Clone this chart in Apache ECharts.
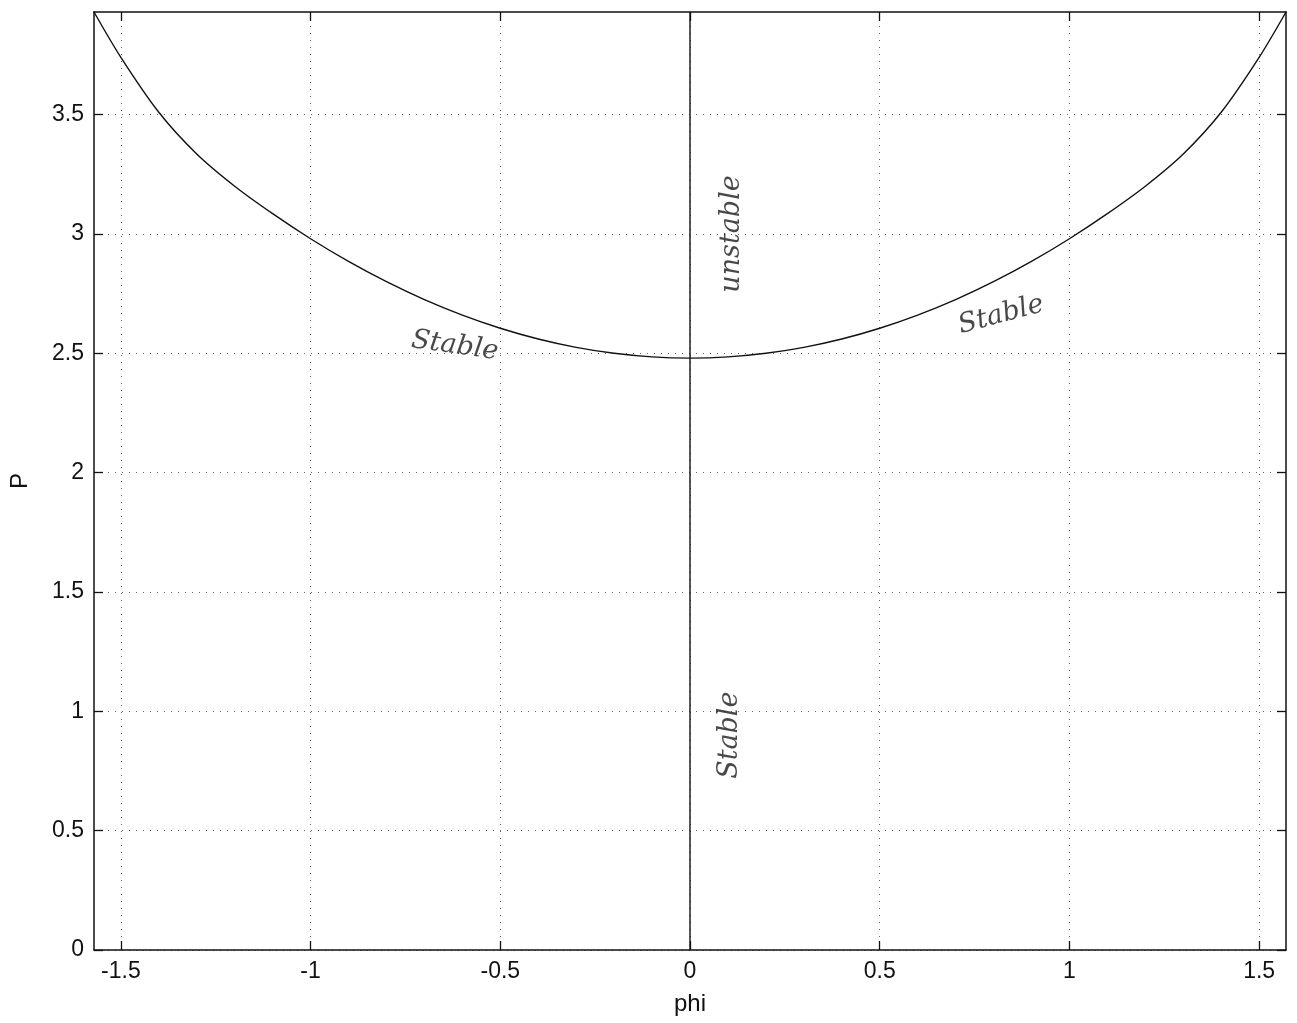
<!DOCTYPE html>
<html>
<head>
<meta charset="utf-8">
<script src="https://cdn.jsdelivr.net/npm/echarts@6/dist/echarts.min.js"></script>
<style>html,body{margin:0;padding:0;background:#fff}#c{width:1297px;height:1023px}</style>
</head>
<body>
<div id="c"></div>
<script>
// Curve P(phi)
const phiValues = [-1.5708,-1.5,-1.4,-1.3,-1.2,-1.1,-1.0,-0.9,-0.8,-0.7,-0.6,-0.5,-0.4,-0.3,-0.2,-0.1,0,0.1,0.2,0.3,0.4,0.5,0.6,0.7,0.8,0.9,1.0,1.1,1.2,1.3,1.4,1.5,1.5708];
const pValues = [3.93,3.74,3.51,3.335,3.20,3.085,2.98,2.885,2.80,2.725,2.66,2.605,2.56,2.525,2.50,2.485,2.48,2.485,2.50,2.525,2.56,2.605,2.66,2.725,2.80,2.885,2.98,3.085,3.20,3.335,3.51,3.74,3.93];
// Vertical branch at phi = 0
const vertPhi = [0, 0];
const vertP = [0, 3.93];
// Tick labels
const xTicks = [-1.5,-1,-0.5,0,0.5,1,1.5];
const yTicks = [0,0.5,1,1.5,2,2.5,3,3.5];
// Handwritten annotations: [phi, P, text, rotationDeg]
const notes = [[-0.62,2.53,'Stable',-8],[0.11,3.0,'unstable',90],[0.82,2.66,'Stable',15],[0.105,0.9,'Stable',90]];

const xMin = -1.5708, xMax = 1.5708, yMin = 0, yMax = 3.93;
const font = '"Liberation Sans", Arial, sans-serif';
const grid = {left:91, right:11, top:12, bottom:73, show:false};
const dotted = {show:true, lineStyle:{color:'#666', type:[1,6], width:1}};

const chart = echarts.init(document.getElementById('c'));
chart.setOption({
  animation:false,
  backgroundColor:'#fff',
  grid: grid,
  xAxis: [{
    type:'value', min:xMin, max:xMax, position:'bottom',
    name:'phi', nameLocation:'middle', nameGap:42,
    nameTextStyle:{fontFamily:font, fontSize:24, color:'#111'},
    axisLine:{show:true, onZero:false, lineStyle:{color:'#111', width:1.5}},
    axisTick:{show:true, inside:true, length:9, customValues:xTicks, lineStyle:{color:'#111', width:1.3}},
    axisLabel:{customValues:xTicks, fontFamily:font, fontSize:23, color:'#111', margin:10,
      formatter: v => String(v)},
    splitLine: dotted
  },{
    type:'value', min:xMin, max:xMax, position:'top',
    axisLine:{show:true, onZero:false, lineStyle:{color:'#111', width:1.5}},
    axisTick:{show:true, inside:true, length:9, customValues:xTicks, lineStyle:{color:'#111', width:1.3}},
    axisLabel:{show:false}, splitLine:{show:false}
  }],
  yAxis: [{
    type:'value', min:yMin, max:yMax, position:'left',
    name:'P', nameLocation:'middle', nameGap:62, nameRotate:90,
    nameTextStyle:{fontFamily:font, fontSize:24, color:'#111'},
    axisLine:{show:true, onZero:false, lineStyle:{color:'#111', width:1.5}},
    axisTick:{show:true, inside:true, length:9, customValues:yTicks, lineStyle:{color:'#111', width:1.3}},
    axisLabel:{customValues:yTicks, fontFamily:font, fontSize:23, color:'#111', margin:10,
      formatter: v => String(v)},
    splitLine: dotted
  },{
    type:'value', min:yMin, max:yMax, position:'right',
    axisLine:{show:true, onZero:false, lineStyle:{color:'#111', width:1.5}},
    axisTick:{show:true, inside:true, length:9, customValues:yTicks, lineStyle:{color:'#111', width:1.3}},
    axisLabel:{show:false}, splitLine:{show:false}
  }],
  series: [{
    type:'line', xAxisIndex:0, yAxisIndex:0, smooth:0.3, showSymbol:false,
    data: phiValues.map((p,i)=>[p,pValues[i]]),
    lineStyle:{color:'#111', width:1.4}, silent:true
  },{
    type:'line', xAxisIndex:0, yAxisIndex:0, showSymbol:false,
    data: vertPhi.map((p,i)=>[p,vertP[i]]),
    lineStyle:{color:'#111', width:1.4}, silent:true
  },{
    type:'scatter', xAxisIndex:0, yAxisIndex:0, symbolSize:0,
    data: notes.map(n=>({value:[n[0],n[1]], label:{formatter:n[2], rotate:n[3]}})),
    label:{show:true, position:'inside', fontFamily:'"DejaVu Serif", serif', fontStyle:'italic',
      fontSize:27, color:'#1a1a1a'},
    silent:true
  }]
});
</script>
</body>
</html>
